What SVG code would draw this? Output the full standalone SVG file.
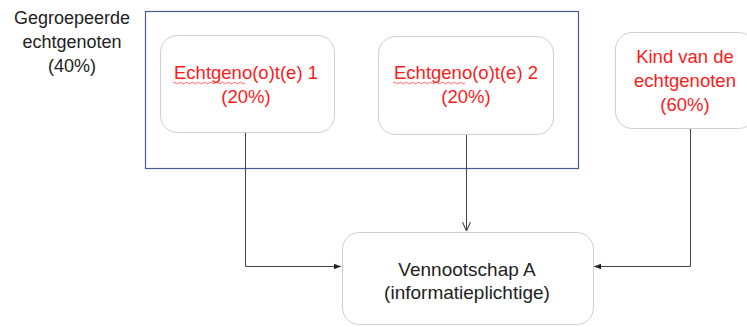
<svg xmlns="http://www.w3.org/2000/svg" width="747" height="327" viewBox="0 0 747 327">
<defs>
<style>
.node{fill:#fff;stroke:#cfcfcf;stroke-width:1}
.red{font-family:"Liberation Sans",Arial,sans-serif;font-size:18.5px;fill:#ff1a1a;text-anchor:middle}
.dark{font-family:"Liberation Sans",Arial,sans-serif;font-size:18px;fill:#222;text-anchor:middle}
.big{font-size:19px}
.conn{fill:none;stroke:#444;stroke-width:1}
.squig{fill:none;stroke:#ff4040;stroke-width:0.8}
</style>
<marker id="tri" viewBox="0 0 10 10" refX="10" refY="5" markerWidth="7" markerHeight="7" markerUnits="userSpaceOnUse" orient="auto">
<path d="M0,1 L10,5 L0,9 Z" fill="#222"/>
</marker>
<marker id="vee" viewBox="0 0 10 10" refX="10" refY="5" markerWidth="9" markerHeight="9" markerUnits="userSpaceOnUse" orient="auto">
<path d="M0,0.5 L10,5 L0,9.5" fill="none" stroke="#444" stroke-width="1.2"/>
</marker>
</defs>
<rect width="747" height="327" fill="#fff"/>
<g id="group-box">
<rect x="145.5" y="11.5" width="433" height="157" fill="none" stroke="#4a5c8e" stroke-width="1.2"/>
<text class="dark" x="72" y="24">Gegroepeerde</text>
<text class="dark" x="72" y="48">echtgenoten</text>
<text class="dark" x="72" y="72">(40%)</text>
</g>
<g id="connectors">
<path class="conn" d="M245.5,133 V266.5 H341" stroke="#111" marker-end="url(#tri)"/>
<path class="conn" d="M466.5,135 V231" marker-end="url(#vee)"/>
<path class="conn" d="M690.5,129 V266.5 H594" marker-end="url(#tri)"/>
</g>
<g id="node-echtgenoot1">
<rect class="node" x="160.5" y="35.5" width="174" height="97" rx="17"/>
<text class="red" x="246" y="79">Echtgeno(o)t(e) 1</text>
<text class="red" x="246" y="103">(20%)</text>
<path class="squig" d="M173,83 q1.5,-1.5 3,0 t3,0 t3,0 t3,0 t3,0 t3,0 t3,0 t3,0 t3,0 t3,0 t3,0 t3,0 t3,0 t3,0 t3,0 t3,0 t3,0 t3,0 t3,0 t3,0 t3,0 t3,0 t3,0 t3,0"/>
</g>
<g id="node-echtgenoot2">
<rect class="node" x="378.5" y="36.5" width="175" height="98" rx="17"/>
<text class="red" x="466" y="79">Echtgeno(o)t(e) 2</text>
<text class="red" x="466" y="103">(20%)</text>
<path class="squig" d="M393,83 q1.5,-1.5 3,0 t3,0 t3,0 t3,0 t3,0 t3,0 t3,0 t3,0 t3,0 t3,0 t3,0 t3,0 t3,0 t3,0 t3,0 t3,0 t3,0 t3,0 t3,0 t3,0 t3,0 t3,0 t3,0 t3,0"/>
</g>
<g id="node-kind">
<rect class="node" x="615.5" y="32.5" width="140" height="96" rx="17"/>
<text class="red" x="685" y="63">Kind van de</text>
<text class="red" x="685" y="87">echtgenoten</text>
<text class="red" x="685" y="111">(60%)</text>
</g>
<g id="node-vennootschap">
<rect class="node" x="342.5" y="232.5" width="251" height="92" rx="17"/>
<text class="dark big" x="467" y="276">Vennootschap A</text>
<text class="dark big" x="467" y="299">(informatieplichtige)</text>
</g>
</svg>
